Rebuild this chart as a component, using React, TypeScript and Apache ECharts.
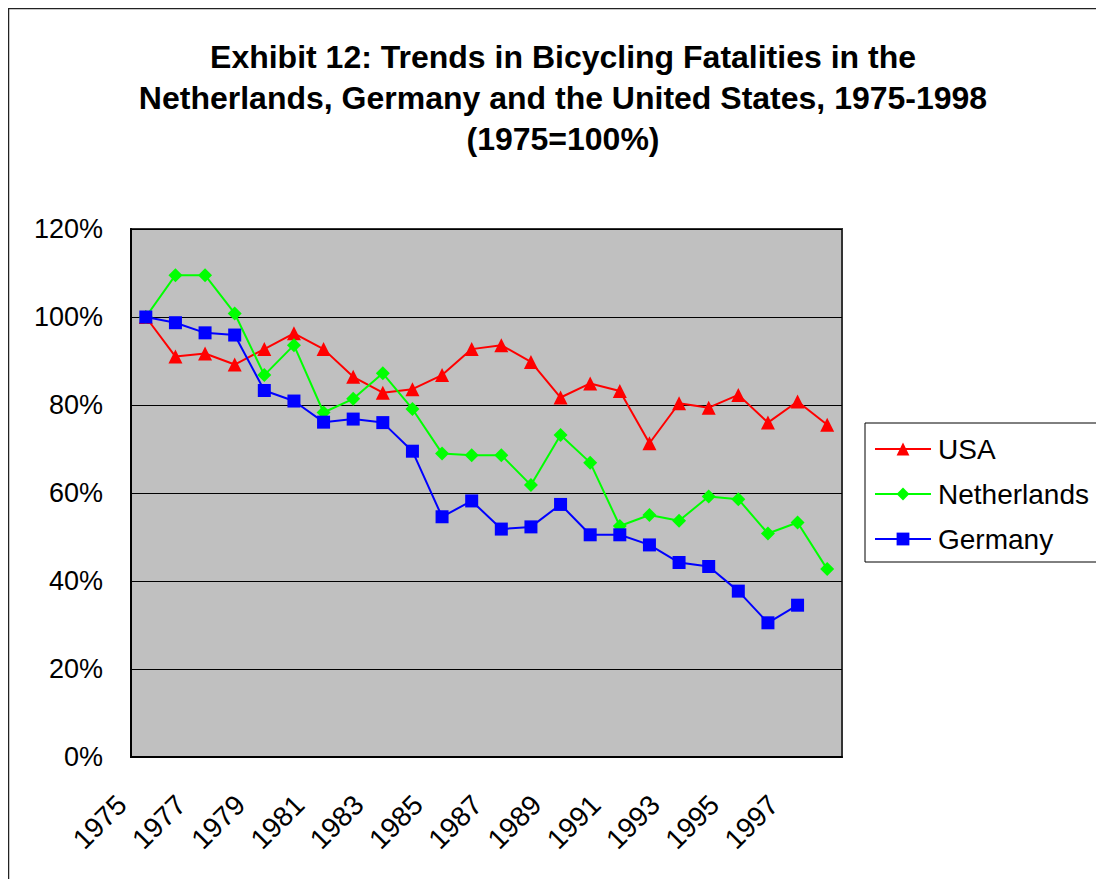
import React, { useEffect, useRef } from "react";
import * as echarts from "echarts";

const years = [
  "1975", "1976", "1977", "1978", "1979", "1980", "1981", "1982", "1983", "1984", "1985", "1986",
  "1987", "1988", "1989", "1990", "1991", "1992", "1993", "1994", "1995", "1996", "1997", "1998",
];

const usa = [
  100, 91.0, 91.7, 89.2, 92.7, 96.3, 92.7, 86.4, 82.8, 83.6, 86.8, 92.7,
  93.6, 89.8, 81.7, 84.9, 83.2, 71.3, 80.4, 79.4, 82.3, 76.0, 80.8, 75.5,
];

const netherlands = [
  100, 109.5, 109.5, 100.8, 86.8, 93.6, 78.3, 81.4, 87.2, 79.1, 69.0, 68.6,
  68.6, 61.8, 73.2, 66.9, 52.5, 55.0, 53.7, 59.2, 58.6, 50.8, 53.3, 42.7,
];

const germany = [
  100, 98.7, 96.4, 95.9, 83.3, 80.9, 76.1, 76.8, 76.0, 69.5, 54.6, 58.2,
  51.8, 52.3, 57.4, 50.5, 50.5, 48.2, 44.2, 43.3, 37.7, 30.5, 34.5, null,
];

const titleText =
  "Exhibit 12: Trends in Bicycling Fatalities in the\nNetherlands, Germany and the United States, 1975-1998\n(1975=100%)";

const FONT = "Arial, 'Liberation Sans', sans-serif";

export default function App() {
  const ref = useRef<HTMLDivElement>(null);

  useEffect(() => {
    if (!ref.current) return;
    const chart = echarts.init(ref.current, null, { renderer: "svg" });
    chart.setOption({
      animation: false,
      backgroundColor: "#ffffff",
      textStyle: { fontFamily: FONT },
      title: {
        text: titleText,
        left: 550,
        top: 23,
        textAlign: "center",
        textStyle: {
          fontFamily: FONT,
          fontSize: 32,
          fontWeight: "bold",
          color: "#000",
          lineHeight: 41,
        },
      },
      graphic: [
        {
          type: "polyline",
          shape: { points: [[0.5, 900], [0.5, 0.5], [1200, 0.5]] },
          style: { stroke: "#222", lineWidth: 1.5, fill: "none" },
          silent: true,
        },
      ],
      legend: {
        orient: "vertical",
        left: 857,
        top: 415,
        padding: [11, 20, 8, 9],
        itemWidth: 56,
        itemHeight: 16,
        itemGap: 15,
        backgroundColor: "#fff",
        borderColor: "#000",
        borderWidth: 1,
        borderRadius: 0,
        textStyle: {
          fontFamily: FONT,
          fontSize: 28,
          color: "#000",
          lineHeight: 30,
          padding: [0, 0, 0, 2],
        },
        data: ["USA", "Netherlands", "Germany"],
      },
      grid: {
        left: 123,
        top: 221,
        width: 711,
        height: 528,
        show: true,
        backgroundColor: "#C0C0C0",
        borderColor: "#333",
        borderWidth: 2,
        containLabel: false,
      },
      xAxis: {
        type: "category",
        data: years,
        boundaryGap: true,
        axisLine: { show: true, lineStyle: { color: "#000", width: 2 } },
        axisTick: { show: false },
        axisLabel: {
          interval: 1,
          rotate: 45,
          margin: 19,
          padding: [0, 34, 0, 0],
          fontFamily: FONT,
          fontSize: 28,
          color: "#000",
        },
        splitLine: { show: false },
      },
      yAxis: {
        type: "value",
        min: 0,
        max: 120,
        interval: 20,
        axisLine: { show: true, lineStyle: { color: "#000", width: 2 } },
        axisTick: { show: false },
        axisLabel: {
          formatter: "{value}%",
          margin: 28,
          fontFamily: FONT,
          fontSize: 27,
          color: "#000",
        },
        splitLine: { show: true, lineStyle: { color: "#000", width: 1 } },
      },
      series: [
        {
          name: "USA",
          type: "line",
          data: usa,
          symbol: "triangle",
          symbolSize: 14,
          showAllSymbol: true,
          itemStyle: { color: "#FF0000" },
          lineStyle: { color: "#FF0000", width: 2 },
          z: 3,
        },
        {
          name: "Netherlands",
          type: "line",
          data: netherlands,
          symbol: "diamond",
          symbolSize: 14,
          showAllSymbol: true,
          itemStyle: { color: "#00FF00" },
          lineStyle: { color: "#00FF00", width: 2 },
          z: 4,
        },
        {
          name: "Germany",
          type: "line",
          data: germany,
          symbol: "rect",
          symbolSize: 13,
          showAllSymbol: true,
          itemStyle: { color: "#0000FF" },
          lineStyle: { color: "#0000FF", width: 2 },
          z: 5,
        },
      ],
    });
    return () => chart.dispose();
  }, []);

  return (
    <div
      ref={ref}
      style={{ position: "absolute", left: 8, top: 8, width: 1088, height: 871 }}
    />
  );
}
